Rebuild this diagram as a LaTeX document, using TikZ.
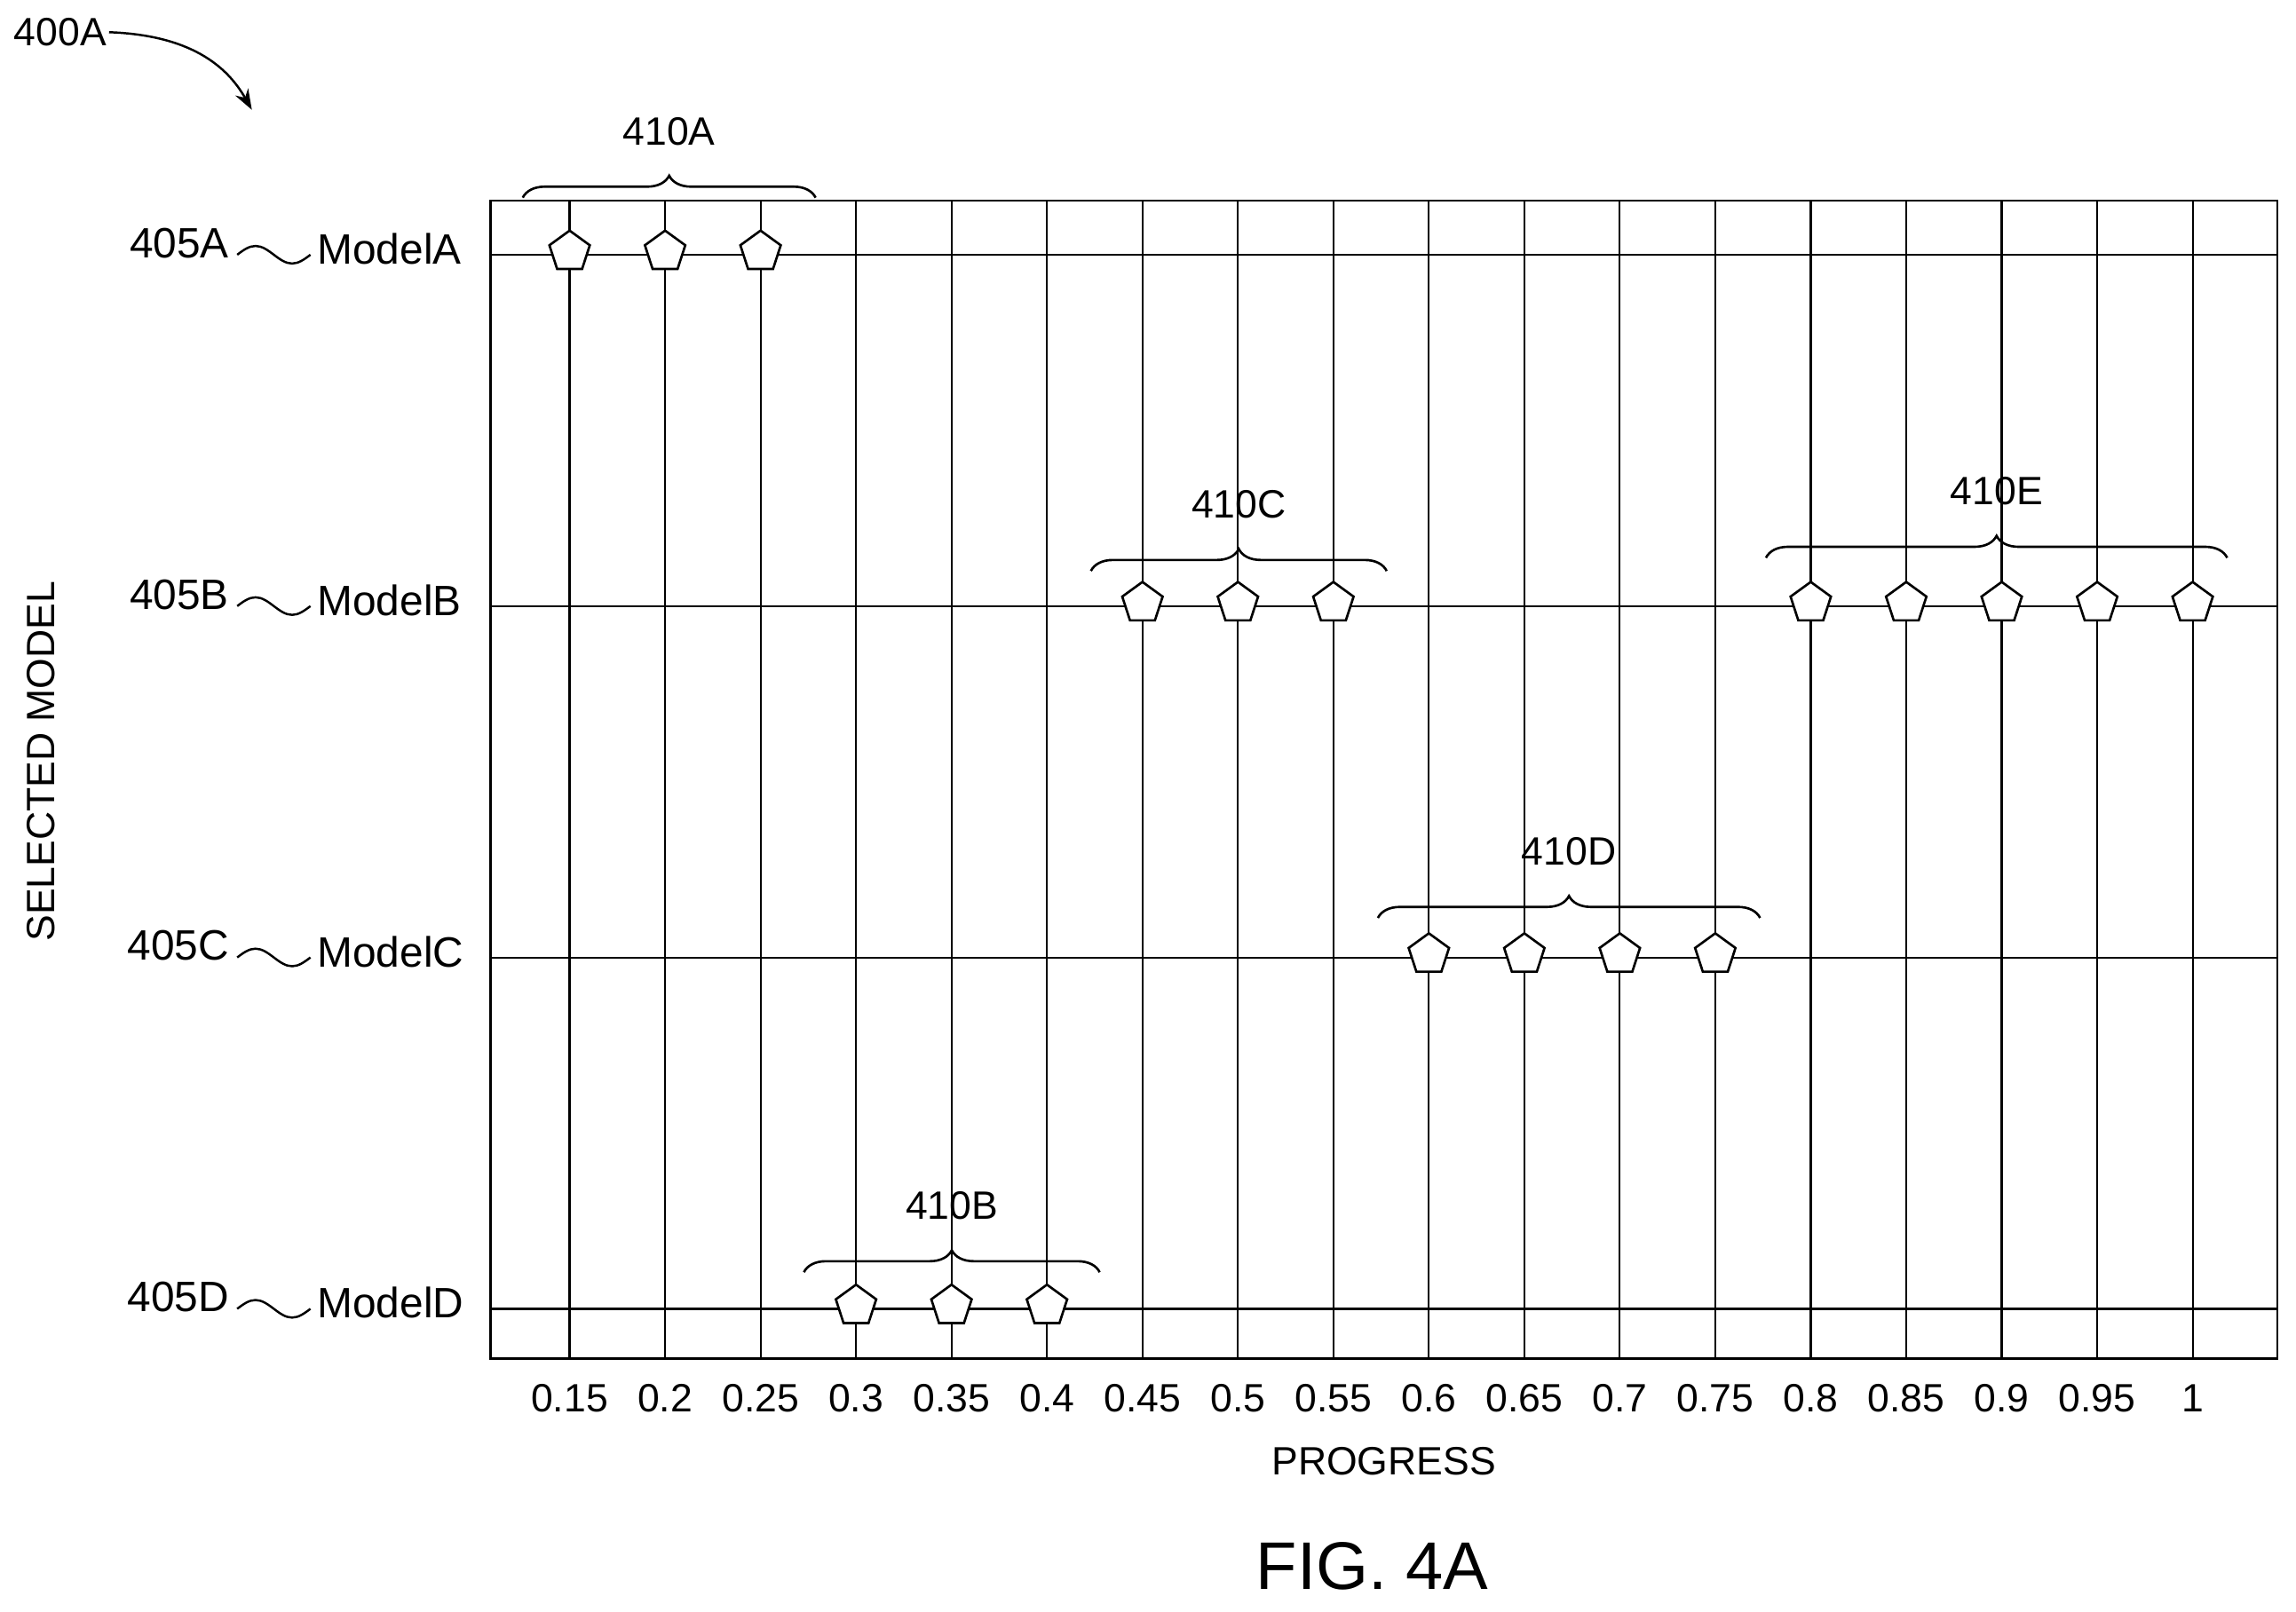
\documentclass[tikz,border=0pt]{standalone}
\usepackage{fontspec}
\setmainfont{Liberation Sans}
\usetikzlibrary{shapes.geometric,decorations.pathreplacing,arrows.meta}
\begin{document}
\begin{tikzpicture}[x=1pt,y=-1pt,line width=1.4pt,
  grid/.style={line width=1.3pt},
  pent/.style={regular polygon,regular polygon sides=5,draw,fill=white,minimum size=29pt,inner sep=0pt,line width=1.6pt},
  lab/.style={font=\fontsize{27}{27}\selectfont,inner sep=1pt},
  mlab/.style={font=\fontsize{29}{29}\selectfont,inner sep=1pt},
  brc/.style={decorate,decoration={brace,amplitude=15pt},line width=1.6pt},
  wav/.style={line width=1.5pt}]
\useasboundingbox (0,0) rectangle (1568,1101);
\draw[grid] (335,137) rectangle (1555,928);
\foreach \i/\v in {0/0.15,1/0.2,2/0.25,3/0.3,4/0.35,5/0.4,6/0.45,7/0.5,8/0.55,9/0.6,10/0.65,11/0.7,12/0.75,13/0.8,14/0.85,15/0.9,16/0.95,17/1}{
  \pgfmathsetmacro\xx{389+\i*65.2}
  \draw[grid] (\xx,137) -- (\xx,928);
  \node[lab] (t\i) at (\xx,955) {\v};
}
\foreach \n/\y in {A/174,B/414,C/654,D/894}{
  \draw[grid] (335,\y) -- (1555,\y);
  \node[mlab,anchor=west] (m\n) at (215,\y-4) {Model\n};
  \node[mlab,anchor=east] (r\n) at (158,\y-8) {405\n};
  \draw[wav] (162,\y) sin (174.5,\y-6) cos (187,\y) sin (199.5,\y+6) cos (212,\y);
}
\node[lab] (xl) at (945,998) {PROGRESS};
\node[lab,rotate=90] (yl) at (28,520) {SELECTED MODEL};
\node[font=\fontsize{46}{46}\selectfont] (fig) at (937,1070) {FIG. 4A};
\node[lab,anchor=west] (t400) at (8,22) {400A};
\draw[line width=1.5pt,-{Stealth[length=14pt,width=10pt]}] (t400.east) .. controls (130,24) and (155,45) .. (172,75);
\foreach \i/\y in {0/174,1/174,2/174,3/894,4/894,5/894,6/414,7/414,8/414,9/654,10/654,11/654,12/654,13/414,14/414,15/414,16/414,17/414}{
  \pgfmathsetmacro\xx{389+\i*65.2}
  \node[pent] (p\i) at (\xx,\y-2) {};
}
\draw[brc] (357,135) -- (557,135) node[midway,above=34pt,lab] (bA) {410A};
\draw[brc] (549,869) -- (751,869) node[midway,above=34pt,lab] (bB) {410B};
\draw[brc] (745,390) -- (947,390) node[midway,above=34pt,lab] (bC) {410C};
\draw[brc] (941,627) -- (1202,627) node[midway,above=34pt,lab] (bD) {410D};
\draw[brc] (1206,381) -- (1521,381) node[midway,above=34pt,lab] (bE) {410E};
\end{tikzpicture}
\end{document}
